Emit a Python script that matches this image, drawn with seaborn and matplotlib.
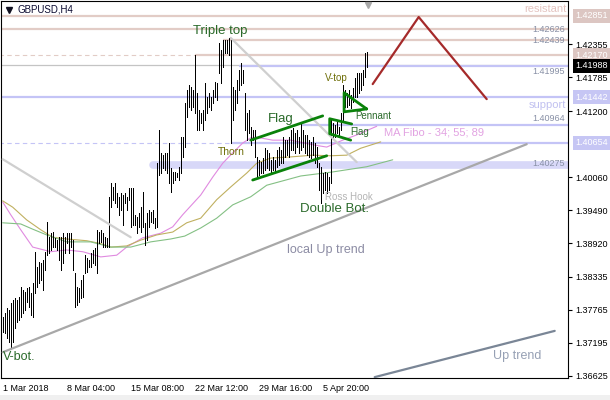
import numpy as np
import pandas as pd
import matplotlib
matplotlib.use("Agg")
import matplotlib.pyplot as plt
import matplotlib.transforms as mtransforms
from matplotlib.patches import Rectangle
import seaborn as sns

# ---------------- data ----------------
bar_high = [1.3764, 1.3771, 1.3780, 1.3776, 1.3788, 1.3794, 1.3797, 1.3794, 1.3799, 1.3816,
            1.3811, 1.3807, 1.3814, 1.3816, 1.3806, 1.3823, 1.3877, 1.3851, 1.3859, 1.3857,
            1.3863, 1.3877, 1.3928, 1.3902, 1.3909, 1.3911, 1.3901, 1.3897, 1.3902, 1.3902,
            1.3909, 1.3902, 1.3909, 1.3909, 1.3909, 1.3897, 1.3840, 1.3816, 1.3814, 1.3828,
            1.3837, 1.3871, 1.3866, 1.3863, 1.3875, 1.3880, 1.3883, 1.3915, 1.3911, 1.3915,
            1.3909, 1.3902, 1.3901, 1.3972, 1.3996, 1.3989, 1.3996, 1.3979, 1.3972, 1.3979,
            1.3975, 1.3979, 1.3972, 1.3987, 1.3987, 1.3987, 1.3940, 1.3937, 1.3944, 1.3954,
            1.3980, 1.3927, 1.3944, 1.3949, 1.3946, 1.3949, 1.3935, 1.4030, 1.4088, 1.4048,
            1.4044, 1.4048, 1.4048, 1.4065, 1.4022, 1.4015, 1.4015, 1.4013, 1.4024, 1.4075,
            1.4075, 1.4134, 1.4157, 1.4165, 1.4162, 1.4157, 1.4217, 1.4152, 1.4122, 1.4117,
            1.4122, 1.4169, 1.4145, 1.4152, 1.4145, 1.4157, 1.4171, 1.4169, 1.4238, 1.4226,
            1.4243, 1.4243, 1.4243, 1.4247, 1.4243, 1.4162, 1.4157, 1.4174, 1.4191, 1.4203,
            1.4191, 1.4152, 1.4117, 1.4122, 1.4093, 1.4088, 1.4088, 1.4041, 1.4036, 1.4032,
            1.4039, 1.4056, 1.4053, 1.4048, 1.4036, 1.4041, 1.4036, 1.4053, 1.4058, 1.4053,
            1.4075, 1.4070, 1.4070, 1.4075, 1.4088, 1.4091, 1.4082, 1.4088, 1.4075, 1.4100,
            1.4088, 1.4079, 1.4079, 1.4070, 1.4067, 1.4075, 1.4065, 1.4058, 1.4030, 1.4024,
            1.4013, 1.4015, 1.4013, 1.4006, 1.4105, 1.4100, 1.4096, 1.4105, 1.4093, 1.4117,
            1.4165, 1.4157, 1.4152, 1.4157, 1.4148, 1.4160, 1.4178, 1.4186, 1.4186, 1.4186,
            1.4191, 1.4221, 1.4223]
bar_low = [1.3738, 1.3736, 1.3728, 1.3721, 1.3710, 1.3721, 1.3745, 1.3755, 1.3759, 1.3764,
           1.3771, 1.3776, 1.3790, 1.3781, 1.3768, 1.3764, 1.3806, 1.3816, 1.3823, 1.3828,
           1.3811, 1.3845, 1.3871, 1.3875, 1.3880, 1.3885, 1.3885, 1.3880, 1.3863, 1.3845,
           1.3857, 1.3875, 1.3892, 1.3875, 1.3885, 1.3845, 1.3781, 1.3785, 1.3790, 1.3797,
           1.3799, 1.3840, 1.3842, 1.3851, 1.3851, 1.3857, 1.3854, 1.3840, 1.3892, 1.3894,
           1.3885, 1.3885, 1.3885, 1.3885, 1.3954, 1.3967, 1.3961, 1.3954, 1.3941, 1.3949,
           1.3923, 1.3961, 1.3949, 1.3967, 1.3920, 1.3923, 1.3923, 1.3909, 1.3920, 1.3911,
           1.3920, 1.3889, 1.3897, 1.3920, 1.3928, 1.3927, 1.3918, 1.3920, 1.4010, 1.4013,
           1.4022, 1.4018, 1.4013, 1.3996, 1.3980, 1.3996, 1.4001, 1.4006, 1.4001, 1.4013,
           1.4041, 1.4058, 1.4110, 1.4127, 1.4122, 1.4127, 1.4117, 1.4088, 1.4088, 1.4100,
           1.4088, 1.4105, 1.4117, 1.4127, 1.4122, 1.4134, 1.4145, 1.4140, 1.4186, 1.4169,
           1.4197, 1.4221, 1.4221, 1.4217, 1.4065, 1.4105, 1.4122, 1.4134, 1.4157, 1.4165,
           1.4169, 1.4088, 1.4070, 1.4082, 1.4062, 1.4070, 1.4041, 1.4006, 1.4010, 1.4013,
           1.4013, 1.4018, 1.4022, 1.4018, 1.4013, 1.4018, 1.4015, 1.4024, 1.4027, 1.4030,
           1.4030, 1.4041, 1.4044, 1.4041, 1.4053, 1.4053, 1.4048, 1.4058, 1.4048, 1.4053,
           1.4058, 1.4048, 1.4044, 1.4041, 1.4039, 1.4044, 1.4030, 1.4024, 1.3984, 1.3961,
           1.3979, 1.3984, 1.3979, 1.3984, 1.3996, 1.4075, 1.4075, 1.4082, 1.4075, 1.4088,
           1.4105, 1.4127, 1.4127, 1.4131, 1.4126, 1.4136, 1.4145, 1.4145, 1.4152, 1.4157,
           1.4165, 1.4179, 1.4197]

date_ticks = [0, 32, 64, 96, 128, 160]
date_labels = ['1 Mar 2018', '8 Mar 04:00', '15 Mar 08:00', '22 Mar 12:00', '29 Mar 16:00', '5 Apr 20:00']
price_ticks = [1.42355, 1.41785, 1.41200, 1.40060, 1.39490,
               1.38920, 1.38335, 1.37765, 1.37195, 1.36625]

ma34_x = [0, 4, 9, 15, 24, 32, 40, 49, 57, 62, 70, 79, 85, 90, 99, 105, 110, 115, 120, 124,
          127, 135, 144, 155, 162, 170, 177, 187]
ma34_y = [1.3963, 1.3941, 1.3915, 1.3885, 1.3877, 1.3880, 1.3877, 1.3868, 1.3871, 1.3885,
          1.3901, 1.3909, 1.3920, 1.3941, 1.3975, 1.4006, 1.4030, 1.4048, 1.4065, 1.4074,
          1.4075, 1.4070, 1.4070, 1.4062, 1.4058, 1.4070, 1.4079, 1.4094]
ma55_x = [0, 5, 12, 19, 25, 32, 42, 49, 54, 62, 69, 77, 85, 92, 99, 107, 114, 122, 127, 134,
          144, 155, 164, 172, 179, 189]
ma55_y = [1.3965, 1.3954, 1.3932, 1.3915, 1.3902, 1.3899, 1.3896, 1.3891, 1.3885, 1.3887,
          1.3897, 1.3906, 1.3911, 1.3927, 1.3935, 1.3967, 1.3989, 1.4013, 1.4030, 1.4039,
          1.4041, 1.4044, 1.4043, 1.4044, 1.4056, 1.4067]
ma89_x = [0, 9, 15, 22, 32, 44, 54, 64, 74, 84, 91, 99, 107, 115, 124, 132, 149, 165, 182, 195]
ma89_y = [1.3927, 1.3925, 1.3916, 1.3906, 1.3894, 1.3894, 1.3885, 1.3885, 1.3894, 1.3899,
          1.3904, 1.3918, 1.3935, 1.3958, 1.3972, 1.3992, 1.4008, 1.4015, 1.4024, 1.4036]

resist_levels = [1.42851, 1.42626, 1.42439, 1.42170]
resist_from = [0, 0, 110, 96]
support_levels = [1.41988, 1.41442, 1.40964, 1.40654]
support_from = [118, 0, 149, 114]
band_level = 1.40275
band_from = 75
gray_level = 1.41995
level_labels = ['1.42626', '1.42439', '1.41995', '1.40964', '1.40275']
level_label_y = [1.4262, 1.4243, 1.4188, 1.4108, 1.4029]

local_up_x = [0, 262]
local_up_y = [1.3703, 1.4063]
up_trend_x = [186, 276]
up_trend_y = [1.3660, 1.3740]
desc1_x = [0, 64]
desc1_y = [1.4037, 1.3902]
desc2_x = [114, 177]
desc2_y = [1.4247, 1.4032]
zigzag_x = [185, 208, 242]
zigzag_y = [1.4167, 1.4283, 1.4141]
flag_up_x = [124, 160]
flag_up_y = [1.4070, 1.4112]
flag_lo_x = [125, 162]
flag_lo_y = [1.4001, 1.4043]
small_flag_x = [174.5, 163.5, 163.5, 174]
small_flag_y = [1.4098, 1.4107, 1.4081, 1.4070]
pennant_x = [182, 170.7, 170.7, 182]
pennant_y = [1.4124, 1.4152, 1.4119, 1.4124]

price_boxes = [(1.42851, '#dcc6c2', 'white'), (1.42170, '#dcc6c2', 'white'),
               (1.41988, 'black', 'white'), (1.41442, '#c6c6f4', 'white'),
               (1.40654, '#c6c6f4', 'white')]

# ---------------- figure ----------------
sns.set_style('white')
plt.rcParams['font.family'] = ['Liberation Sans', 'DejaVu Sans']

fig = plt.figure(figsize=(6.1, 4.0), dpi=100)
fig.patch.set_facecolor('white')
ax = fig.add_axes([1 / 610, 22 / 400, 567 / 610, 377.5 / 400])
ax.set_facecolor('white')
ax.set_xlim(-0.85, 282.65)
ax.set_ylim(1.36585, 1.43116)

xmax = 290
res_c = '#e2ccc6'
sup_c = '#c4c4f6'

# horizontal levels
for lv, st in zip(resist_levels, resist_from):
    if st > 0 and lv == 1.42170:
        ax.hlines(lv, -5, st, color=res_c, lw=0.8, linestyles=(0, (4, 3)), zorder=1)
    ax.hlines(lv, st if st > 0 else -5, xmax, color=res_c, lw=1.6, zorder=1)
ax.hlines(gray_level, -5, xmax, color='#c4c4c4', lw=0.9, zorder=1)
for lv, st in zip(support_levels, support_from):
    if lv == 1.40654:
        ax.hlines(lv, -5, st, color=sup_c, lw=0.8, linestyles=(0, (4, 3)), zorder=1)
    ax.hlines(lv, st if st > 0 else -5, xmax, color=sup_c, lw=1.6, zorder=1)
ax.plot([band_from, xmax], [band_level, band_level], color='#d8d8f8', lw=5.5,
        solid_capstyle='round', zorder=1)

# moving averages
ma_df = pd.concat([
    pd.DataFrame({'x': ma34_x, 'y': ma34_y, 'ma': 'MA34'}),
    pd.DataFrame({'x': ma55_x, 'y': ma55_y, 'ma': 'MA55'}),
    pd.DataFrame({'x': ma89_x, 'y': ma89_y, 'ma': 'MA89'}),
])
sns.lineplot(data=ma_df, x='x', y='y', hue='ma', sort=False, estimator=None,
             palette={'MA34': '#e08ae0', 'MA55': '#c0b060', 'MA89': '#84c084'},
             lw=0.8, legend=False, ax=ax, zorder=2)

# price bars
idx = np.arange(len(bar_high))
ax.vlines(idx, bar_low, bar_high, color='black', lw=0.5, antialiased=False, zorder=3)

# trend lines and figures
ax.plot(local_up_x, local_up_y, color='#a8a8a8', lw=1.6, zorder=4)
ax.plot(up_trend_x, up_trend_y, color='#7a8696', lw=1.6, zorder=4)
ax.plot(desc1_x, desc1_y, color='#cfcfcf', lw=1.6, zorder=4)
ax.plot(desc2_x, desc2_y, color='#cfcfcf', lw=1.6, zorder=4)
ax.plot(zigzag_x, zigzag_y, color='#a52a2a', lw=1.6, zorder=4)
for xs, ys in [(flag_up_x, flag_up_y), (flag_lo_x, flag_lo_y),
               (small_flag_x, small_flag_y), (pennant_x, pennant_y)]:
    ax.plot(xs, ys, color='#0a820a', lw=2.0, zorder=5)

# texts
g_dark = '#2a6a2a'
olive = '#6e6e08'
ax.text(95.2, 1.4259, 'Triple top', color=g_dark, fontsize=9.5, va='center', ha='left', zorder=6)
ax.text(132.7, 1.4107, 'Flag', color=g_dark, fontsize=9.5, va='center', ha='left', zorder=6)
ax.text(107.7, 1.4050, 'Thorn', color=olive, fontsize=7.5, va='center', ha='left', zorder=6)
ax.text(161.2, 1.4178, 'V-top', color=olive, fontsize=7, va='center', ha='left', zorder=6)
ax.text(176.2, 1.4112, 'Pennant', color=g_dark, fontsize=7, va='center', ha='left', zorder=6)
ax.text(173.7, 1.4084, 'Flag', color=g_dark, fontsize=7, va='center', ha='left', zorder=6)
ax.text(148.7, 1.3951, 'Double Bot.', color=g_dark, fontsize=9.5, va='center', ha='left', zorder=6)
ax.text(161.2, 1.3972, 'Ross Hook', color='#b4b4b4', fontsize=7, va='center', ha='left', zorder=6)
ax.text(142.2, 1.3880, 'local Up trend', color='#8c8ca4', fontsize=9, va='center', ha='left', zorder=6)
ax.text(245.2, 1.3697, 'Up trend', color='#96a0b4', fontsize=9, va='center', ha='left', zorder=6)
ax.text(0.2, 1.3695, 'V-bot.', color=g_dark, fontsize=9, va='center', ha='left', zorder=6)
ax.text(281.7, 1.4297, 'resistant', color='#e4c4c0', fontsize=8, va='center', ha='right', zorder=6)
ax.text(281.7, 1.4131, 'support', color='#c0c0f0', fontsize=8, va='center', ha='right', zorder=6)
ax.text(190.7, 1.4084, 'MA Fibo - 34; 55; 89', color='#e2a2e2', fontsize=8, va='center',
        ha='left', zorder=6)
for lab, yy in zip(level_labels, level_label_y):
    ax.text(281.2, yy, lab, color='#8890a6', fontsize=6.5, va='center', ha='right', zorder=6)

# axes styling
for s in ax.spines.values():
    s.set_color('black')
    s.set_linewidth(0.8)
ax.yaxis.tick_right()
ax.set_yticks(price_ticks)
ax.set_yticklabels([f'{v:.5f}' for v in price_ticks])
ax.set_xticks(date_ticks)
ax.set_xticklabels(date_labels, ha='left')
ax.tick_params(axis='y', direction='out', length=3, width=0.8, pad=2.5, labelsize=6.5,
               colors='black', left=False, right=True)
ax.tick_params(axis='x', direction='out', length=3, width=0.8, pad=1.5, labelsize=6.5,
               colors='black')
ax.set_xlabel('')
ax.set_ylabel('')

# right-axis price boxes
trans = mtransforms.blended_transform_factory(ax.transAxes, ax.transData)
for pr, fc, tc in price_boxes:
    ax.text(1.0125, pr, f'{pr:.5f}', transform=trans, color=tc, fontsize=6.5, va='center',
            ha='left', clip_on=False, zorder=10,
            bbox=dict(boxstyle='square,pad=0.28', fc=fc, ec='none'))

# title and markers
ax.plot([8 / 567], [1 - 9 / 377.5], transform=ax.transAxes, marker='v', ms=4.5,
        color='#101020', clip_on=False, zorder=10)
ax.text(16 / 567, 1 - 9.5 / 377.5, 'GBPUSD,H4', transform=ax.transAxes, fontsize=7,
        color='#0a0a30', va='center', ha='left', zorder=10)
ax.plot([367 / 567], [1 - 4 / 377.5], transform=ax.transAxes, marker='v', ms=5,
        color='#a8a8a8', clip_on=False, zorder=10)

fig.add_artist(Rectangle((0, 0), 1, 5 / 400, transform=fig.transFigure,
                         fc='#f0f0f0', ec='none'))

fig.savefig('out.png', dpi=100, facecolor='white')
